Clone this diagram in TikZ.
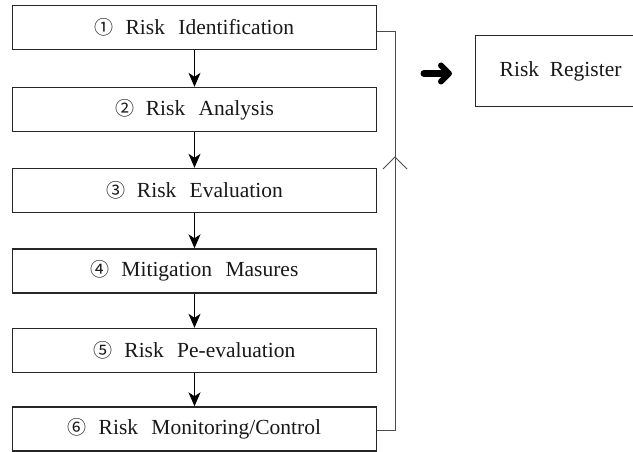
\documentclass[tikz,border=0pt]{standalone}
\usepackage{fontspec}
\setmainfont{Liberation Serif}
\newfontfamily\circfont{Noto Sans CJK KR}
\usetikzlibrary{arrows.meta}
\newcommand{\cn}[1]{{\circfont\fontsize{19}{19}\selectfont #1}\hspace{0.55em}}
\newcommand{\ws}{\hspace{0.62em}}
\begin{document}
\begin{tikzpicture}[x=1pt,y=-1pt,
  stepbox/.style={draw=black!85,line width=1.4pt,minimum width=364pt,minimum height=44pt,inner sep=0pt,
    font=\fontsize{21.5}{24}\selectfont,text=black!90},
  flow/.style={line width=1pt,-{Stealth[length=14pt,width=12pt,inset=4pt]}},
  fb/.style={line width=0.9pt,draw=black!70}]
\useasboundingbox (0,0) rectangle (633,452);
\clip (0,0) rectangle (633,452);
\fill[white] (0,0) rectangle (633,452);
\node[stepbox] (s1) at (194.5,27.5) {\cn{①}Risk\ws Identification};
\node[stepbox] (s2) at (194.5,109.5) {\cn{②}Risk\ws Analysis};
\node[stepbox] (s3) at (194.5,190.5) {\cn{③}Risk\ws Evaluation};
\node[stepbox] (s4) at (194.5,271) {\cn{④}Mitigation\ws Masures};
\node[stepbox] (s5) at (194.5,350.5) {\cn{⑤}Risk\ws Pe-evaluation};
\node[stepbox] (s6) at (194.5,429) {\cn{⑥}Risk\ws Monitoring/Control};
\foreach \a/\b in {s1/s2,s2/s3,s3/s4,s4/s5,s5/s6}
  \draw[flow] (\a.south) -- (\b.north);
% feedback loop
\coordinate (c1) at (395,31);
\coordinate (c6) at (395,430);
\draw[fb] (s6.east |- c6) -- (c6) -- (c1) -- (s1.east |- c1);
\coordinate (tip) at (395,157);
\draw[fb] ([shift={(-12,12)}]tip) -- (tip) -- ([shift={(12,12)}]tip);
% register
\node[draw=black!85,line width=1.4pt,minimum width=170pt,minimum height=71pt,inner sep=0pt,anchor=north west,
  font=\fontsize{21.5}{24}\selectfont,text=black!90,text width=150pt,align=left] (reg) at (475,35)
  {\hspace{14pt}Risk\hspace{0.5em}Register};
% heavy arrow
\coordinate (ha) at (424,73.5);
\coordinate (hb) at (449,73.5);
\draw[line width=7pt,line cap=round] (ha) -- ([xshift=-3pt]hb);
\draw[line width=6pt,line cap=round,line join=round] ([shift={(-8,-8)}]hb) -- (hb) -- ([shift={(-8,8)}]hb);
\end{tikzpicture}
\end{document}
